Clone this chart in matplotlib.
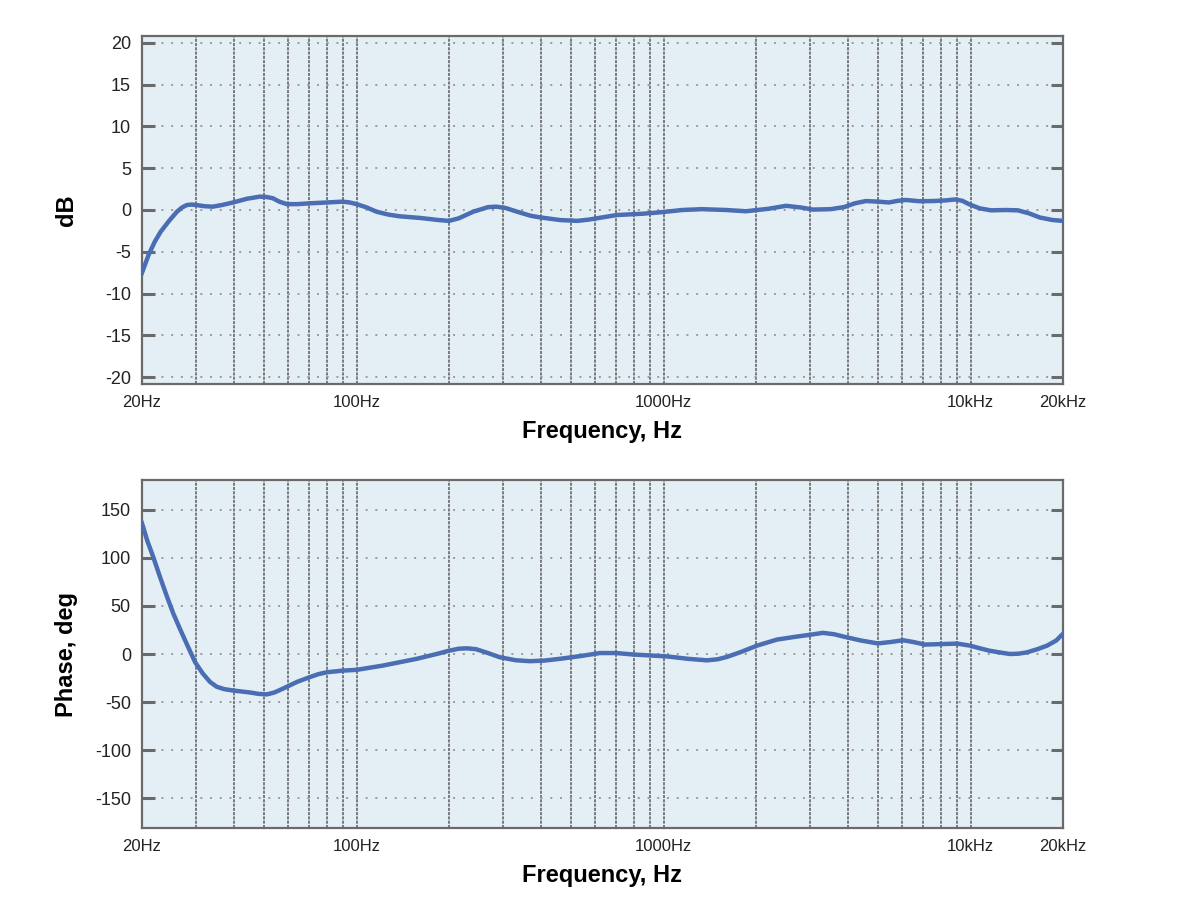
import matplotlib
matplotlib.use("Agg")
import matplotlib.pyplot as plt
from matplotlib.ticker import FixedLocator, NullFormatter

plt.rcParams['font.family'] = ['Liberation Sans', 'DejaVu Sans']
plt.rcParams['axes.unicode_minus'] = False

# Magnitude response (dB)
mag_freq = [20, 21, 22, 23, 24.5, 26, 27, 28, 29, 30, 32, 34, 36.5, 39.6, 44, 48.4, 51, 53.4,
            56, 59.3, 64, 70.5, 80, 90, 95, 100, 108, 116, 127, 138, 161, 185, 200, 215,
            240, 268, 285, 305, 340, 370, 399, 460, 523, 570, 640, 705, 850, 980, 1150,
            1333, 1600, 1855, 2200, 2506, 2800, 3069, 3500, 3873, 4200, 4560, 5000, 5420,
            5800, 6165, 6800, 7550, 8300, 8900, 9400, 9880, 10700, 11650, 13000, 14260,
            15500, 16820, 18500, 20000]
mag_db = [-7.5, -5.4, -3.8, -2.6, -1.3, -0.2, 0.3, 0.6, 0.65, 0.6, 0.45, 0.4, 0.6, 0.9, 1.35,
          1.6, 1.55, 1.4, 1.0, 0.7, 0.7, 0.8, 0.9, 1.0, 0.9, 0.7, 0.3, -0.2, -0.55, -0.75,
          -0.95, -1.2, -1.3, -1.0, -0.2, 0.34, 0.4, 0.25, -0.3, -0.7, -0.9, -1.2, -1.3,
          -1.15, -0.85, -0.6, -0.45, -0.27, 0.0, 0.1, 0.0, -0.15, 0.15, 0.5, 0.3, 0.05,
          0.1, 0.35, 0.8, 1.07, 1.0, 0.9, 1.1, 1.2, 1.05, 1.07, 1.15, 1.26, 1.1, 0.7, 0.2,
          -0.04, 0.0, -0.04, -0.4, -0.9, -1.2, -1.3]

# Phase response (deg)
ph_freq = [20, 20.8, 21.7, 22.9, 24.1, 25.3, 26.6, 28.2, 29.8, 31.5, 33.3, 35, 37, 39.6,
           44.9, 48, 51.1, 54, 57.6, 64, 70.5, 75, 80, 90, 100, 122, 157, 185, 200, 215,
           229, 245, 265, 293, 330, 367, 410, 460, 540, 620, 700, 794, 1026, 1200, 1384,
           1500, 1610, 1800, 2015, 2340, 2700, 3000, 3305, 3600, 3870, 4400, 4990, 5500,
           6030, 6500, 7100, 8000, 9040, 9960, 10700, 11500, 12500, 13440, 14300, 15260,
           16500, 17750, 19000, 20000]
ph_deg = [136, 118, 102, 80, 60, 42, 26, 8, -8.6, -20, -29, -34, -36.5, -38,
          -40, -41.5, -42, -40, -36, -29, -24, -21, -19, -17.3, -16.5, -12, -5, 0.5, 3.4, 5.5,
          5.9, 5, 1.5, -3.4, -6.5, -7.5, -6.8, -5, -2, 1, 1, -0.5, -2.5, -5, -6.6,
          -5.5, -3, 2.5, 8.7, 15, 18, 20, 22, 20.5, 18, 14, 11, 12.5,
          14.3, 12.5, 9.8, 10.3, 10.8, 8.7, 6, 3.5, 1.5, 0, 0.3, 1.7,
          5, 8.7, 14, 21]

major_freqs = [20, 100, 1000, 10000, 20000]
major_labels = ['20Hz', '100Hz', '1000Hz', '10kHz', '20kHz']
minor_freqs = [30, 40, 50, 60, 70, 80, 90, 200, 300, 400, 500, 600, 700, 800, 900,
               2000, 3000, 4000, 5000, 6000, 7000, 8000, 9000]
mag_ticks = [-20, -15, -10, -5, 0, 5, 10, 15, 20]
ph_ticks = [-150, -100, -50, 0, 50, 100, 150]

BG = '#e4eff5'
LINE = '#4a6db3'
W, H = 1200, 922
fig = plt.figure(figsize=(12, 9.22), dpi=100)

def make_axes(top_px, bottom_px):
    l, r = 142, 1063
    return fig.add_axes([l / W, 1 - bottom_px / H, (r - l) / W, (bottom_px - top_px) / H])

def style(ax, yticks, ylim, ylabel):
    ax.set_facecolor(BG)
    ax.set_xscale('log')
    ax.set_xlim(20, 20000)
    ax.set_ylim(*ylim)
    ax.xaxis.set_major_locator(FixedLocator(major_freqs))
    ax.set_xticklabels(major_labels)
    ax.xaxis.set_minor_locator(FixedLocator(minor_freqs))
    ax.xaxis.set_minor_formatter(NullFormatter())
    ax.set_yticks(yticks)
    for v in minor_freqs + [100, 1000, 10000]:
        ax.axvline(v, color='#5a5a5a', lw=1.1, ls=(0, (2, 0.8)), zorder=1)
    for v in yticks:
        ax.axhline(v, color='#9a9a9a', lw=1.4, ls=(0, (1, 4)), zorder=1)
    ax.tick_params(axis='y', which='both', direction='in', length=9, width=2.2,
                   color='#6a6a6a', left=True, right=True, labelsize=13, pad=8,
                   labelcolor='#222222')
    ax.tick_params(axis='x', which='both', direction='in', length=0,
                   labelsize=12, pad=8, labelcolor='#222222')
    for s in ax.spines.values():
        s.set_color('#6a6a6a')
        s.set_linewidth(1.6)
    ax.set_xlabel('Frequency, Hz', fontsize=17, fontweight='bold', labelpad=7)
    ax.set_ylabel(ylabel, fontsize=17, fontweight='bold')
    ax.yaxis.set_label_coords((78 - 142) / 921, 0.5)

ax1 = make_axes(36, 384)
style(ax1, mag_ticks, (-20.8, 20.8), 'dB')
ax1.plot(mag_freq, mag_db, color=LINE, lw=3.2, zorder=3, solid_joinstyle='round')

ax2 = make_axes(480, 828)
style(ax2, ph_ticks, (-181, 181), 'Phase, deg')
ax2.plot(ph_freq, ph_deg, color=LINE, lw=3.2, zorder=3, solid_joinstyle='round')

fig.savefig('out.png', dpi=100, facecolor='white')
